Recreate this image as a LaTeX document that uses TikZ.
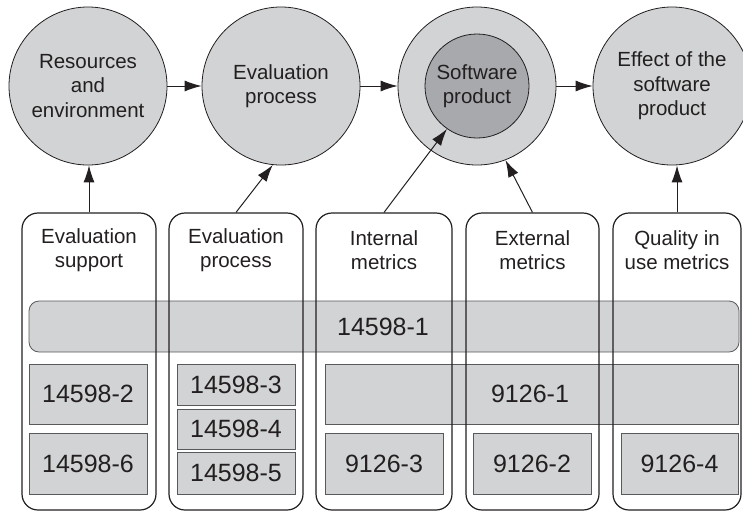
\documentclass[tikz,border=0pt]{standalone}
\usepackage{fontspec}
\setmainfont{Liberation Sans}
\usetikzlibrary{arrows.meta}
\definecolor{lgray}{HTML}{D1D3D4}
\definecolor{dgray}{HTML}{A7A9AC}
\definecolor{edge}{HTML}{231F20}
\definecolor{boxedge}{HTML}{58595B}
\definecolor{txt}{HTML}{231F20}
\begin{document}
\begin{tikzpicture}[x=1pt,y=-1pt,
  lbl/.style={font=\fontsize{20.5}{24.5}\selectfont, text=txt, align=center},
  num/.style={font=\fontsize{25}{28}\selectfont, text=txt},
  bubble/.style={circle, draw=edge, line width=0.8pt, fill=lgray, minimum size=158pt, inner sep=0pt, lbl},
  colbox/.style={rectangle, rounded corners=16pt, draw=edge, line width=1.2pt, inner sep=0pt},
  stdbox/.style={rectangle, draw=boxedge, line width=0.8pt, fill=lgray, inner sep=0pt, num},
  arr/.style={draw=edge, line width=1pt, -{Latex[length=17pt,width=11pt]}}]
\useasboundingbox (0,0) rectangle (743,512);
\clip (0,0) rectangle (743,512);
% bands and boxes
\node[stdbox, rounded corners=10pt, minimum width=710pt, minimum height=51pt] (b1) at (384,326.5) {};
\node[num] (b1t) at (383,326.5) {14598-1};
\node[stdbox, minimum width=118pt, minimum height=60pt] (b2) at (88,394) {14598-2};
\node[stdbox, minimum width=118pt, minimum height=61pt] (b6) at (88,463.5) {14598-6};
\node[stdbox, minimum width=118pt, minimum height=41pt] (b3) at (236,384.5) {14598-3};
\node[stdbox, minimum width=118pt, minimum height=40pt] (b4) at (236,429) {14598-4};
\node[stdbox, minimum width=118pt, minimum height=42pt] (b5) at (236,473) {14598-5};
\node[stdbox, minimum width=413pt, minimum height=60pt] (n1) at (531.5,394) {};
\node[num] (n1t) at (530,394) {9126-1};
\node[stdbox, minimum width=118pt, minimum height=61pt] (n3) at (384,463.5) {9126-3};
\node[stdbox, minimum width=118pt, minimum height=61pt] (n2) at (532,463.5) {9126-2};
\node[stdbox, minimum width=117pt, minimum height=61pt] (n4) at (679.5,463.5) {9126-4};
% columns
\node[colbox, minimum width=134pt, minimum height=297pt] (c1) at (89,361.5) {};
\node[colbox, minimum width=134pt, minimum height=297pt] (c2) at (236,361.5) {};
\node[colbox, minimum width=136pt, minimum height=297pt] (c3) at (384,361.5) {};
\node[colbox, minimum width=133pt, minimum height=297pt] (c4) at (532.5,361.5) {};
\node[colbox, minimum width=128pt, minimum height=297pt] (c5) at (677,361.5) {};
\node[lbl] (t1) at (89,250) {Evaluation\\support};
\node[lbl] (t2) at (236,250) {Evaluation\\process};
\node[lbl] (t3) at (384,250) {Internal\\metrics};
\node[lbl] (t4) at (532.5,250) {External\\metrics};
\node[lbl] (t5) at (677,250) {Quality in\\use metrics};
% circles
\node[bubble] (e1) at (88,86) {Resources\\and\\environment};
\node[bubble] (e2) at (281,86) {Evaluation\\process};
\node[bubble] (e3) at (477,86) {};
\node[circle, draw=edge, line width=0.8pt, fill=dgray, minimum size=104pt, inner sep=0pt, lbl] (e3i) at (477,86) {Software\\product};
\node[bubble] (e4) at (672,86) {Effect of the\\software\\product};
% arrows
\draw[arr] (e1) -- (e2);
\draw[arr] (e2) -- (e3);
\draw[arr] (e3) -- (e4);
\draw[arr] (c1.north) -- (c1.north |- e1.south);
\draw[arr] (c2.north) -- (e2.264);
\draw[arr] (c3.north) -- (e3i.235);
\draw[arr] (c4.north) -- (e3.291);
\draw[arr] (c5.north) -- (c5.north |- e4.south);
\end{tikzpicture}
\end{document}
